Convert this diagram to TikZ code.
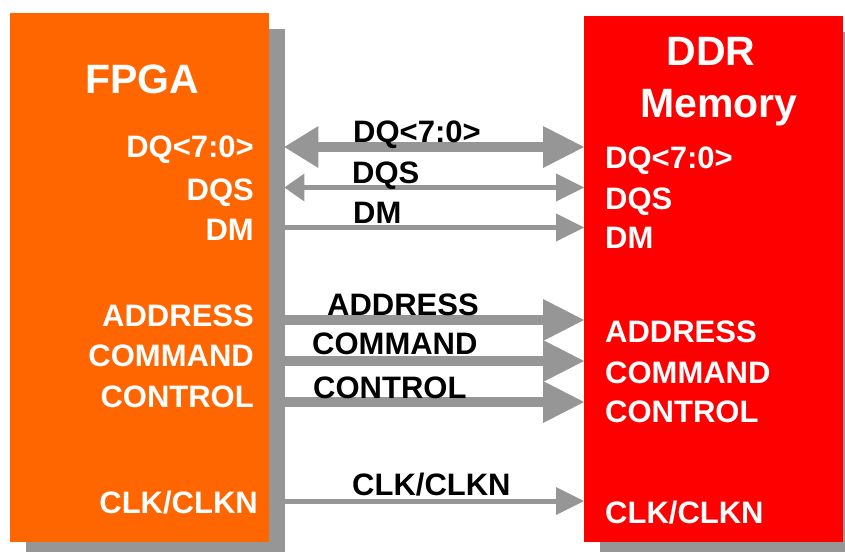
\documentclass[tikz,border=0pt]{standalone}
\usepackage{fontspec}
\setmainfont{Liberation Sans}
\usetikzlibrary{arrows.meta}
\definecolor{fpgaorange}{HTML}{FF6600}
\definecolor{ddrred}{HTML}{FF0000}
\definecolor{busgray}{HTML}{969696}
\tikzset{
  chip/.style={draw=none,minimum width=259pt,inner sep=0pt,anchor=north west},
  shadowbox/.style={chip,fill=busgray},
  title/.style={text=white,font=\fontsize{41}{50}\selectfont\bfseries,inner sep=0pt,anchor=base},
  pin/.style={text=white,font=\fontsize{31}{37}\selectfont\bfseries,inner sep=0pt},
  sig/.style={text=black,font=\fontsize{31}{37}\selectfont\bfseries,inner sep=0pt,anchor=base west},
  widebus/.style={busgray,line width=10pt},
  thinbus/.style={busgray,line width=5pt},
  bighead/.tip={Triangle[length=41pt,width=42pt,line width=0pt]},
  smallhead/.tip={Triangle[length=28pt,width=28pt,line width=0pt]}
}
\begin{document}
\begin{tikzpicture}[x=1pt,y=-1pt]
\useasboundingbox (0,0) rectangle (845,551);
% drop shadows and chip bodies
\node[shadowbox,minimum height=529pt] (fpgash) at (26,29) {};
\node[shadowbox,minimum height=526pt] (ddrsh) at (600,32) {};
\node[chip,fill=fpgaorange,minimum height=529pt] (fpga) at (10,13) {};
\node[chip,fill=ddrred,minimum height=526pt] (ddr) at (584,16) {};
% buses from the FPGA to the memory
\draw[widebus,{Triangle[length=34pt,width=42pt,line width=0pt]}-bighead] ([xshift=-1pt]fpgash.east |- 0,147) -- (ddr.west |- 0,147);
\draw[thinbus,{Triangle[length=20pt,width=28pt,line width=0pt]}-smallhead] ([xshift=-1pt]fpgash.east |- 0,187.5) -- (ddr.west |- 0,187.5);
\draw[thinbus,-smallhead] (fpgash.east |- 0,227.5) -- (ddr.west |- 0,227.5);
\draw[widebus,-bighead] (fpgash.east |- 0,320) -- (ddr.west |- 0,320);
\draw[widebus,-bighead] (fpgash.east |- 0,361) -- (ddr.west |- 0,361);
\draw[widebus,-bighead] (fpgash.east |- 0,402) -- (ddr.west |- 0,402);
\draw[thinbus,-smallhead] (fpgash.east |- 0,501) -- (ddr.west |- 0,501);
% titles
\node[title] (tfpga) at (142.5,93) {FPGA};
\node[title] (tddr) at (711,65) {DDR};
\node[title] (tmem) at (719,117) {Memory};
% FPGA pins
\node[pin,anchor=base east] (fdq) at (254,157) {DQ<7:0>};
\node[pin,anchor=base east] (fdqs) at (254,200) {DQS};
\node[pin,anchor=base east] (fdm) at (254,240) {DM};
\node[pin,anchor=base east] (fadr) at (254,326) {ADDRESS};
\node[pin,anchor=base east] (fcmd) at (254,366) {COMMAND};
\node[pin,anchor=base east] (fctl) at (254,407) {CONTROL};
\node[pin,anchor=base east] (fclk) at (258,513) {CLK/CLKN};
% memory pins
\node[pin,anchor=base west] (mdq) at (605,168) {DQ<7:0>};
\node[pin,anchor=base west] (mdqs) at (605,209) {DQS};
\node[pin,anchor=base west] (mdm) at (605,248) {DM};
\node[pin,anchor=base west] (madr) at (605,342) {ADDRESS};
\node[pin,anchor=base west] (mcmd) at (605,383) {COMMAND};
\node[pin,anchor=base west] (mctl) at (605,422) {CONTROL};
\node[pin,anchor=base west] (mclk) at (605,523) {CLK/CLKN};
% bus names
\node[sig] (sdq) at (353,142) {DQ<7:0>};
\node[sig] (sdqs) at (352,183) {DQS};
\node[sig] (sdm) at (353,223) {DM};
\node[sig] (sadr) at (327,315) {ADDRESS};
\node[sig] (scmd) at (312,354) {COMMAND};
\node[sig] (sctl) at (313,398) {CONTROL};
\node[sig] (sclk) at (352,495) {CLK/CLKN};
\end{tikzpicture}
\end{document}
